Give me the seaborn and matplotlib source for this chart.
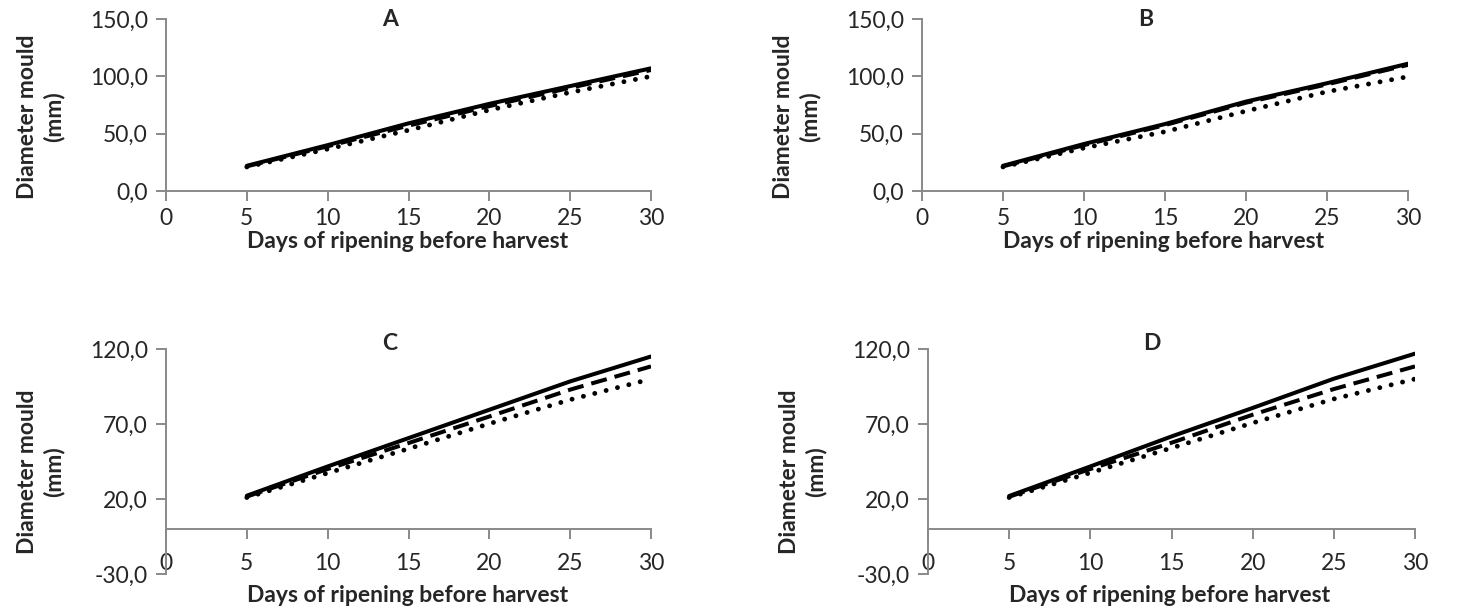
import matplotlib
matplotlib.use("Agg")
import matplotlib.pyplot as plt
import seaborn as sns
import pandas as pd
from matplotlib.ticker import FuncFormatter

days = [5, 10, 15, 20, 25, 30]

a_solid = [22.0, 40.0, 59.0, 76.0, 91.5, 107.0]
a_dashed = [21.5, 39.0, 57.0, 74.0, 90.0, 105.5]
a_dotted = [21.0, 36.6, 53.0, 70.6, 86.0, 100.0]

b_solid = [22.0, 41.0, 58.4, 78.0, 94.0, 111.0]
b_dashed = [21.5, 40.0, 57.5, 77.0, 93.0, 110.0]
b_dotted = [21.0, 37.5, 51.7, 69.7, 86.6, 99.7]

c_solid = [22.2, 41.7, 60.6, 79.5, 98.4, 115.0]
c_dashed = [21.6, 40.0, 57.3, 75.0, 92.9, 108.4]
c_dotted = [21.0, 37.3, 53.5, 70.2, 86.2, 100.0]

d_solid = [22.0, 41.7, 61.7, 80.7, 100.2, 116.9]
d_dashed = [21.5, 40.0, 57.5, 76.2, 93.3, 108.4]
d_dotted = [21.0, 37.5, 54.0, 70.7, 86.7, 100.0]

panel_titles = ["A", "B", "C", "D"]
x_ticks = [0, 5, 10, 15, 20, 25, 30]
y_ticks_top = [0, 50, 100, 150]
y_ticks_bottom = [-30, 20, 70, 120]
x_title = "Days of ripening before harvest"
y_title = "Diameter mould\n(mm)"

sns.set_theme(style="white")
plt.rcParams["font.family"] = ["Lato", "DejaVu Sans"]

GRAY = "#898989"
FS = 16.5

fig = plt.figure(figsize=(14.70, 6.13), dpi=100)

positions = [
    (166, 651, 19, 191),
    (922, 1408, 19, 191),
    (166, 651, 349, 574),
    (928, 1415, 349, 574),
]
W, H = 1470, 613
series = [
    (a_solid, a_dashed, a_dotted),
    (b_solid, b_dashed, b_dotted),
    (c_solid, c_dashed, c_dotted),
    (d_solid, d_dashed, d_dotted),
]

fmt = FuncFormatter(lambda v, p: f"{v:.1f}".replace(".", ","))

for i, (x0, x1, yt, yb) in enumerate(positions):
    ax = fig.add_axes([x0 / W, 1 - yb / H, (x1 - x0) / W, (yb - yt) / H])
    s, d, o = series[i]
    df = pd.DataFrame({"day": days * 3,
                       "value": s + d + o,
                       "series": ["solid"] * 6 + ["dashed"] * 6 + ["dotted"] * 6})
    sns.lineplot(data=df[df.series == "dotted"], x="day", y="value", ax=ax,
                 color="black", lw=3.5, linestyle=(0, (0.01, 2.4)),
                 dash_capstyle="round")
    sns.lineplot(data=df[df.series == "dashed"], x="day", y="value", ax=ax,
                 color="black", lw=2.9, linestyle=(0, (4.0, 2.0)))
    sns.lineplot(data=df[df.series == "solid"], x="day", y="value", ax=ax,
                 color="black", lw=2.9, solid_capstyle="round")
    ax.set_xlim(0, 30)
    ax.set_xticks(x_ticks)
    ax.set_xlabel("")
    ax.set_ylabel("")
    for sp in ["top", "right"]:
        ax.spines[sp].set_visible(False)
    for sp in ["left", "bottom"]:
        ax.spines[sp].set_color(GRAY)
        ax.spines[sp].set_linewidth(1.4)
    ax.yaxis.set_major_formatter(fmt)
    ax.tick_params(axis="y", which="both", left=True, length=7, width=1.4,
                   color=GRAY, labelsize=FS, pad=6, direction="out")
    if i < 2:
        ax.set_ylim(0, 150)
        ax.set_yticks(y_ticks_top)
        ax.tick_params(axis="x", bottom=True, length=7, width=1.4, color=GRAY,
                       labelsize=FS, pad=5, direction="out")
        fig.text((x0 + 224) / W, 1 - 20 / H, panel_titles[i], ha="center",
                 va="center", fontsize=FS, fontweight="bold")
        fig.text((x0 + 242) / W, 1 - 241 / H, x_title, ha="center",
                 va="center", fontsize=FS, fontweight="bold")
        fig.text((x0 - 125) / W, 1 - 117 / H, y_title, ha="center",
                 va="center", fontsize=FS, fontweight="bold", rotation=90,
                 linespacing=1.25)
    else:
        ax.set_ylim(-30, 120)
        ax.set_yticks(y_ticks_bottom)
        ax.spines["bottom"].set_position(("data", 0))
        ax.tick_params(axis="x", bottom=True, length=7, width=1.4, color=GRAY,
                       labelbottom=False, direction="out")
        sec = ax.secondary_xaxis(0.1)
        sec.set_xticks(x_ticks)
        sec.tick_params(axis="x", length=0, labelsize=FS, pad=1)
        sec.spines["bottom"].set_visible(False)
        fig.text((x0 + 224) / W, 1 - 343 / H, panel_titles[i], ha="center",
                 va="center", fontsize=FS, fontweight="bold")
        fig.text((x0 + 242) / W, 1 - 596 / H, x_title, ha="center",
                 va="center", fontsize=FS, fontweight="bold")
        fig.text((x0 - 125) / W, 1 - 472 / H, y_title, ha="center",
                 va="center", fontsize=FS, fontweight="bold", rotation=90,
                 linespacing=1.25)

fig.savefig("out.png", dpi=100)
